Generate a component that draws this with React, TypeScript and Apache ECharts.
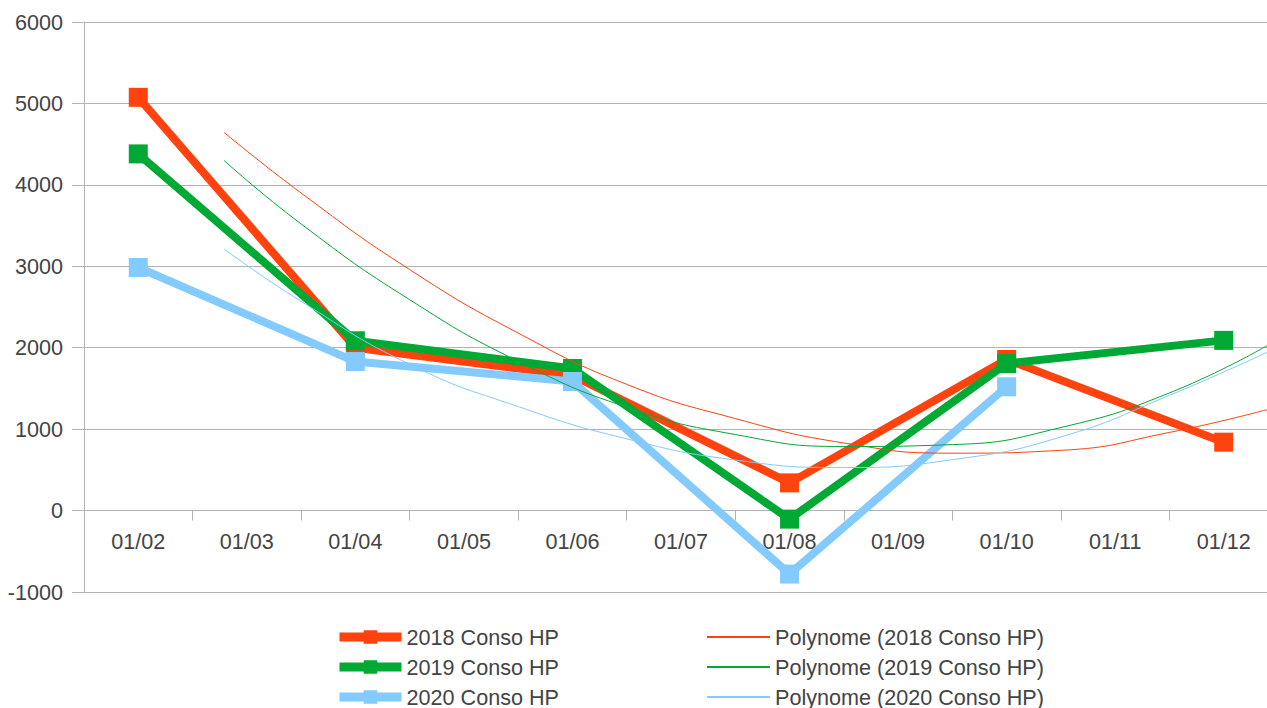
import React, { useEffect, useRef } from "react";
import * as echarts from "echarts";

const categories = ["01/02", "01/03", "01/04", "01/05", "01/06", "01/07", "01/08", "01/09", "01/10", "01/11", "01/12"];

const conso2018 = [5075, null, 2000, null, 1660, null, 340, null, 1855, null, 840];
const conso2019 = [4380, null, 2085, null, 1745, null, -105, null, 1805, null, 2090];
const conso2020 = [2985, null, 1830, null, 1585, null, -780, null, 1520, null, null];

// Trend curves: [category position, value]
const trend2018 = [
  [0.79, 4645], [1.5, 3900], [2.5, 2960], [3.5, 2180], [4.5, 1550], [5.5, 1130],
  [6.5, 830], [7.5, 705], [8.5, 740], [9.5, 960], [10.4, 1240],
];
const trend2019 = [
  [0.79, 4300], [1.5, 3520], [2.5, 2590], [3.5, 1834], [4.5, 1270], [5.5, 934],
  [6.5, 787], [7.5, 810], [8.5, 1020], [9.5, 1445], [10.4, 2025],
];
const trend2020 = [
  [0.79, 3213], [1.5, 2570], [2.5, 1796], [3.5, 1277], [4.5, 881], [5.5, 621],
  [6.5, 529], [7.5, 625], [8.5, 904], [9.5, 1415], [10.4, 1945],
];

const seriesNames = ["2018 Conso HP", "2019 Conso HP", "2020 Conso HP"];
const trendNames = ["Polynome (2018 Conso HP)", "Polynome (2019 Conso HP)", "Polynome (2020 Conso HP)"];
const colors = ["#ff420e", "#00a933", "#83caff"];

const FONT = "'Liberation Sans', Arial, sans-serif";
const TEXT = "#444444";
const GRID = "#b3b3b3";
const FS = 21.6;

export default function App() {
  const ref = useRef<HTMLDivElement>(null);
  useEffect(() => {
    if (!ref.current) return;
    const chart = echarts.init(ref.current, null, { renderer: "svg" });
    const mains = [conso2018, conso2019, conso2020];
    const trends = [trend2018, trend2019, trend2020];
    const legendText = { fontSize: FS, color: TEXT, fontFamily: FONT, lineHeight: 22 };
    chart.setOption({
      animation: false,
      textStyle: { fontFamily: FONT },
      grid: { left: 84, top: 22, width: 1194, height: 570, containLabel: false },
      legend: [
        {
          data: seriesNames,
          orient: "vertical",
          left: 330,
          top: 621,
          height: 110,
          itemWidth: 62,
          itemHeight: 17,
          itemGap: 8,
          lineStyle: { width: 9 },
          textStyle: legendText,
        },
        {
          data: trendNames,
          orient: "vertical",
          left: 701,
          top: 621,
          height: 110,
          itemWidth: 63,
          itemHeight: 17,
          itemGap: 8,
          itemStyle: { opacity: 0 },
          textStyle: legendText,
        },
      ],
      xAxis: [
        {
          type: "category",
          data: categories,
          boundaryGap: true,
          offset: -81.43,
          axisLine: { onZero: false, lineStyle: { color: GRID, width: 1 } },
          axisTick: { show: true, length: 10, lineStyle: { color: GRID } },
          axisLabel: { fontSize: FS, color: TEXT, margin: 20, fontFamily: FONT },
          splitLine: { show: false },
        },
        {
          type: "value",
          min: -0.5,
          max: 10.5,
          show: false,
          splitLine: { show: false },
        },
      ],
      yAxis: {
        type: "value",
        min: -1000,
        max: 6000,
        interval: 1000,
        axisLine: { show: true, onZero: false, lineStyle: { color: GRID, width: 1 } },
        axisTick: { show: true, length: 12, lineStyle: { color: GRID } },
        axisLabel: {
          fontSize: FS,
          color: TEXT,
          margin: 21,
          fontFamily: FONT,
          formatter: (v: number) => String(v),
        },
        splitLine: { show: true, lineStyle: { color: GRID, width: 1 } },
      },
      series: [
        ...mains.map((d, i) => ({
          name: seriesNames[i],
          type: "line",
          xAxisIndex: 0,
          data: d,
          connectNulls: true,
          symbol: "rect",
          symbolSize: 19,
          color: colors[i],
          lineStyle: { width: 8, color: colors[i] },
          itemStyle: { color: colors[i] },
          z: 2 + i,
        })),
        ...trends.map((d, i) => ({
          name: trendNames[i],
          type: "line",
          xAxisIndex: 1,
          data: d,
          smooth: 0.5,
          symbol: "none",
          color: colors[i],
          lineStyle: { width: 1, color: colors[i] },
          z: 6 + i,
        })),
      ],
    });
    return () => chart.dispose();
  }, []);
  return (
    <div style={{ position: "absolute", left: 0, top: 0, width: 1267, height: 708, overflow: "hidden", background: "#fff" }}>
      <div ref={ref} style={{ width: 1290, height: 708 }} />
    </div>
  );
}
